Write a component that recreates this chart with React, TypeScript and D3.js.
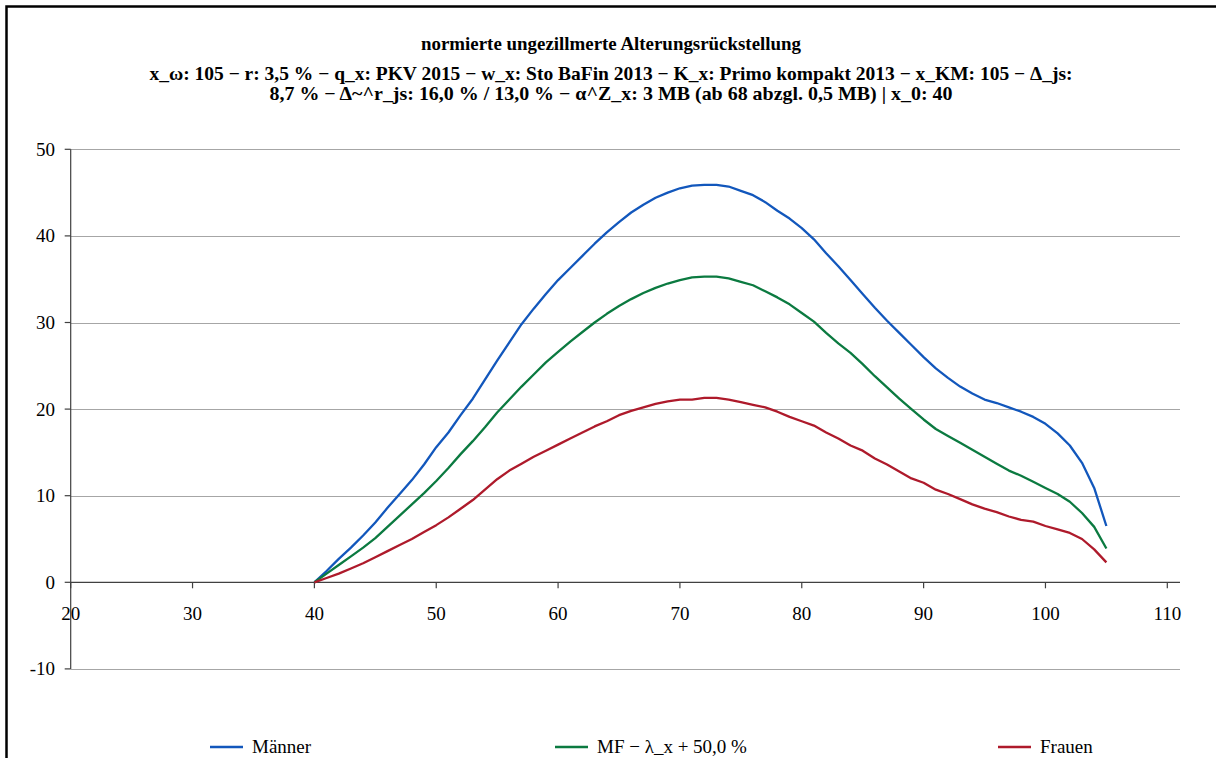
import React from "react";
import * as d3 from "d3";

// chart data
const titleLines = [
  "normierte ungezillmerte Alterungsrückstellung",
  "x_ω: 105 − r: 3,5 % − q_x: PKV 2015 − w_x: Sto BaFin 2013 − K_x: Primo kompakt 2013 − x_KM: 105 − Δ_js:",
  "8,7 % − Δ~^r_js: 16,0 % / 13,0 % − α^Z_x: 3 MB (ab 68 abzgl. 0,5 MB) | x_0: 40",
];

const ages = [
  40, 41, 42, 43, 44, 45, 46, 47, 48, 49, 50, 51, 52, 53, 54, 55, 56, 57, 58, 59,
  60, 61, 62, 63, 64, 65, 66, 67, 68, 69, 70, 71, 72, 73, 74, 75, 76, 77, 78, 79,
  80, 81, 82, 83, 84, 85, 86, 87, 88, 89, 90, 91, 92, 93, 94, 95, 96, 97, 98, 99,
  100, 101, 102, 103, 104, 105,
];

const maenner = [
  0, 1.3, 2.7, 4.0, 5.4, 6.9, 8.6, 10.2, 11.8, 13.6, 15.6, 17.3, 19.3, 21.2, 23.4, 25.6, 27.7, 29.8, 31.6, 33.3,
  34.9, 36.3, 37.7, 39.1, 40.4, 41.6, 42.7, 43.6, 44.4, 45.0, 45.5, 45.8, 45.9, 45.9, 45.7, 45.2, 44.7, 43.9, 42.9, 42.0,
  40.9, 39.6, 38.0, 36.5, 34.9, 33.3, 31.7, 30.2, 28.8, 27.4, 26.0, 24.7, 23.6, 22.6, 21.8, 21.1, 20.7, 20.2, 19.7, 19.1,
  18.3, 17.2, 15.8, 13.8, 10.9, 6.5,
];

const mfLambda = [
  0, 1.0, 2.0, 3.0, 4.0, 5.1, 6.4, 7.7, 9.0, 10.3, 11.7, 13.2, 14.8, 16.3, 17.9, 19.6, 21.1, 22.6, 24.0, 25.4,
  26.6, 27.8, 28.9, 30.0, 31.0, 31.9, 32.7, 33.4, 34.0, 34.5, 34.9, 35.2, 35.3, 35.3, 35.1, 34.7, 34.3, 33.6, 32.9, 32.1,
  31.1, 30.1, 28.8, 27.6, 26.5, 25.2, 23.8, 22.5, 21.2, 20.0, 18.8, 17.7, 16.9, 16.1, 15.3, 14.5, 13.7, 12.9, 12.3, 11.6,
  10.9, 10.2, 9.3, 8.0, 6.4, 3.9,
];

const frauen = [
  0, 0.5, 1.0, 1.6, 2.2, 2.9, 3.6, 4.3, 5.0, 5.8, 6.6, 7.5, 8.5, 9.5, 10.7, 11.9, 12.9, 13.7, 14.5, 15.2,
  15.9, 16.6, 17.3, 18.0, 18.6, 19.3, 19.8, 20.2, 20.6, 20.9, 21.1, 21.1, 21.3, 21.3, 21.1, 20.8, 20.5, 20.2, 19.7, 19.1,
  18.6, 18.1, 17.3, 16.6, 15.8, 15.2, 14.3, 13.6, 12.8, 12.0, 11.5, 10.7, 10.2, 9.6, 9.0, 8.5, 8.1, 7.6, 7.2, 7.0,
  6.5, 6.1, 5.7, 5.0, 3.8, 2.3,
];

const seriesNames = ["Männer", "MF − λ_x + 50,0 %", "Frauen"];
const seriesColors = ["#1257bc", "#0b7a40", "#ae1a2b"];

const xTicks = [20, 30, 40, 50, 60, 70, 80, 90, 100, 110];
const yTicks = [-10, 0, 10, 20, 30, 40, 50];

const W = 1216;
const H = 758;
const FONT = "'Liberation Serif', 'Times New Roman', serif";

const App = () => {
  const x = d3.scaleLinear().domain([20, 110]).range([70.7, 1167.3]);
  const y = d3.scaleLinear().domain([-10, 50]).range([668.9, 149.3]);
  const plotRight = 1180;

  const series = [maenner, mfLambda, frauen];
  const line = d3
    .line<number>()
    .x((d, i) => x(ages[i]))
    .y((d) => y(d));

  // title line layout: baseline and rendered width of each line
  const titleY = [50, 80, 99.5];
  const titleW = [380, 923, 683];

  // legend slots (start of the key line)
  const legendX = [210, 555, 998];
  const legendY = 747;

  return (
    <div style={{ position: "absolute", left: 0, top: 0 }}>
      <svg width={W} height={H} style={{ display: "block", background: "#fff" }}>
        {/* outer chart frame, cut off at right and bottom */}
        <rect x={6.5} y={6.5} width={W + 40} height={H + 40} fill="#fff" stroke="#000" strokeWidth={2.5} />

        {/* title */}
        <g fontFamily={FONT} fontWeight="bold" fontSize={19} textAnchor="middle" fill="#000">
          {titleLines.map((t, i) => (
            <text key={i} x={611} y={titleY[i]} textLength={titleW[i]} lengthAdjust="spacingAndGlyphs">
              {t}
            </text>
          ))}
        </g>

        {/* gridlines */}
        <g stroke="#a6a6a6" strokeWidth={1}>
          {yTicks
            .filter((v) => v !== 0)
            .map((v) => (
              <line key={v} x1={x(20)} x2={plotRight} y1={Math.round(y(v)) + 0.5} y2={Math.round(y(v)) + 0.5} />
            ))}
        </g>

        {/* axes */}
        <g stroke="#404040" strokeWidth={1.2}>
          <line x1={x(20)} x2={x(20)} y1={y(50)} y2={y(-10)} />
          <line x1={x(20)} x2={plotRight} y1={y(0)} y2={y(0)} />
          {yTicks.map((v) => (
            <line key={v} x1={x(20) - 6} x2={x(20)} y1={y(v)} y2={y(v)} />
          ))}
          {xTicks.map((v) => (
            <line key={v} x1={x(v)} x2={x(v)} y1={y(0)} y2={y(0) + 6} />
          ))}
        </g>

        {/* tick labels */}
        <g fontFamily={FONT} fontSize={19} fill="#000">
          {yTicks.map((v) => (
            <text key={v} x={55} y={y(v)} dy="0.34em" textAnchor="end">
              {v}
            </text>
          ))}
          {xTicks.map((v) => (
            <text key={v} x={x(v)} y={619.5} textAnchor="middle">
              {v}
            </text>
          ))}
        </g>

        {/* series */}
        {series.map((s, i) => (
          <path
            key={i}
            d={line(s) || ""}
            fill="none"
            stroke={seriesColors[i]}
            strokeWidth={2.3}
            strokeLinejoin="round"
          />
        ))}

        {/* legend */}
        <g fontFamily={FONT} fontSize={19} fill="#000">
          {seriesNames.map((n, i) => (
            <g key={n} transform={`translate(${legendX[i]},${legendY})`}>
              <line x1={0} x2={33} y1={0} y2={0} stroke={seriesColors[i]} strokeWidth={2.5} />
              <text x={42} y={0} dy="0.34em">
                {n}
              </text>
            </g>
          ))}
        </g>
      </svg>
    </div>
  );
};

export default App;
